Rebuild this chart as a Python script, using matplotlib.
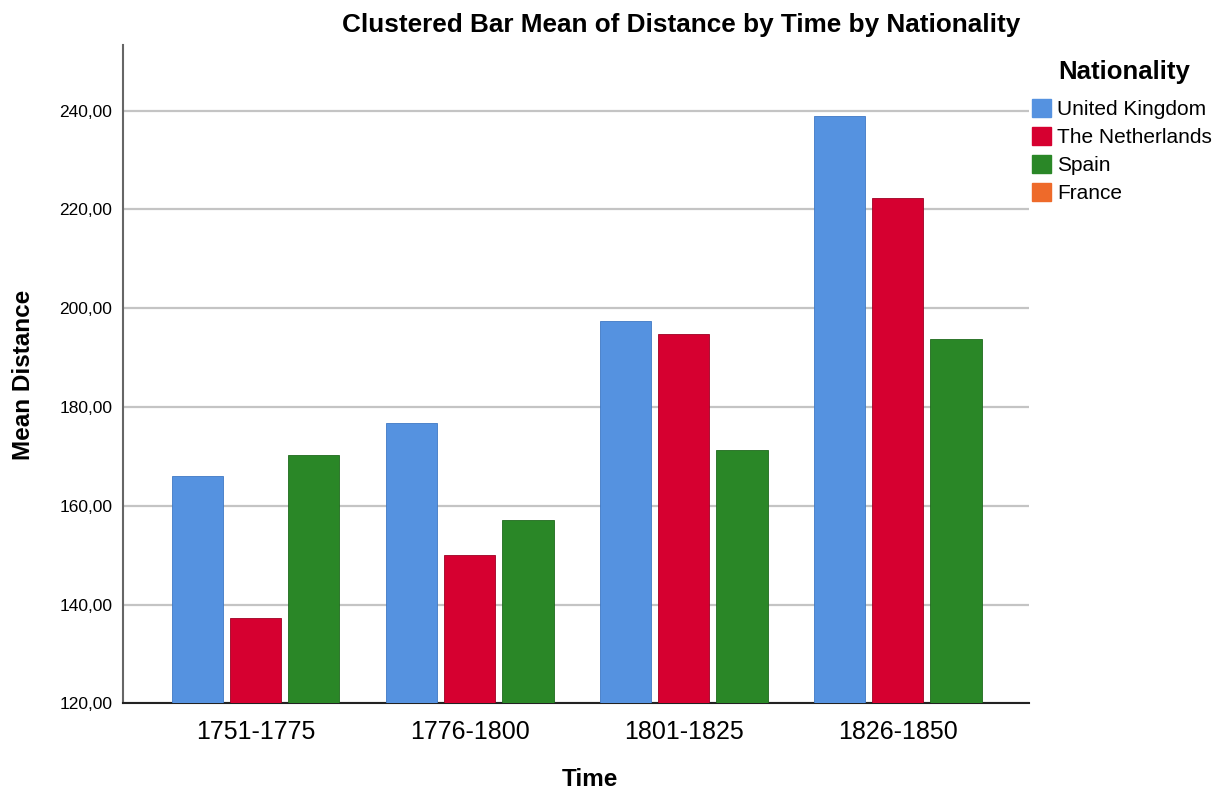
import numpy as np
import matplotlib.pyplot as plt
from matplotlib.patches import Patch

plt.rcParams["font.family"] = ["Liberation Sans", "DejaVu Sans"]

# data
periods = ["1751-1775", "1776-1800", "1801-1825", "1826-1850"]
nations = ["United Kingdom", "The Netherlands", "Spain", "France"]
uk = [166.1, 176.7, 197.4, 239.0]
nl = [137.3, 150.0, 194.7, 222.4]
spain = [170.3, 157.1, 171.2, 193.8]
france = []   # in the legend but no bars

colors = ["#5592E0", "#D60030", "#2A8727", "#EE6A2A"]
edges = ["#3F78C4", "#9E0022", "#1E6A1C", "#C05020"]

fig = plt.figure(figsize=(12.23, 7.97), dpi=100)
ax = fig.add_axes([0.1008, 0.1176, 0.7405, 0.8259])

x = np.arange(len(periods))
w = 0.24
step = 0.272
series = [uk, nl, spain]
for i, vals in enumerate(series):
    off = (i - (len(series) - 1) / 2) * step
    ax.bar(x + off, np.array(vals) - 120, w, bottom=120, color=colors[i],
           edgecolor=edges[i], lw=0.6, zorder=3)

ax.set_xlim(-0.618, 3.613)
ax.set_ylim(120, 253.3)
ax.set_yticks(np.arange(120, 241, 20))
ax.set_yticklabels([f"{v},00" for v in range(120, 241, 20)], fontsize=12.5)
ax.set_xticks(x)
ax.set_xticklabels(periods, fontsize=18)
ax.tick_params(axis="y", length=0, pad=8)
ax.tick_params(axis="x", length=0, pad=12)
ax.grid(axis="y", color="#C4C4C4", lw=1.6, zorder=0)
for s in ["top", "right"]:
    ax.spines[s].set_visible(False)
ax.spines["left"].set_color("#666666")
ax.spines["left"].set_linewidth(1.5)
ax.spines["bottom"].set_color("#222222")
ax.spines["bottom"].set_linewidth(1.5)

# axis titles placed in figure pixels terms
fig.text(24 / 1223, 1 - 375 / 797, "Mean Distance", rotation=90, ha="center", va="center",
         fontsize=17.5, fontweight="bold")
fig.text(590 / 1223, 1 - 780 / 797, "Time", ha="center", va="center",
         fontsize=17.5, fontweight="bold")
fig.text(681 / 1223, 1 - 25 / 797, "Clustered Bar Mean of Distance by Time by Nationality",
         ha="center", va="center", fontsize=18.8, fontweight="bold")

fig.text(1124 / 1223, 1 - 72 / 797, "Nationality", ha="center", va="center",
         fontsize=18.5, fontweight="bold")
handles = [Patch(facecolor=c, edgecolor=c) for c in colors]
leg = fig.legend(handles, nations, loc="upper left", bbox_to_anchor=(1032 / 1223, 1 - 99 / 797),
                 frameon=False, fontsize=15, handlelength=0.9, handleheight=0.95,
                 handletextpad=0.3, labelspacing=0.38, borderaxespad=0, borderpad=0)

fig.savefig("out.png", dpi=100)
